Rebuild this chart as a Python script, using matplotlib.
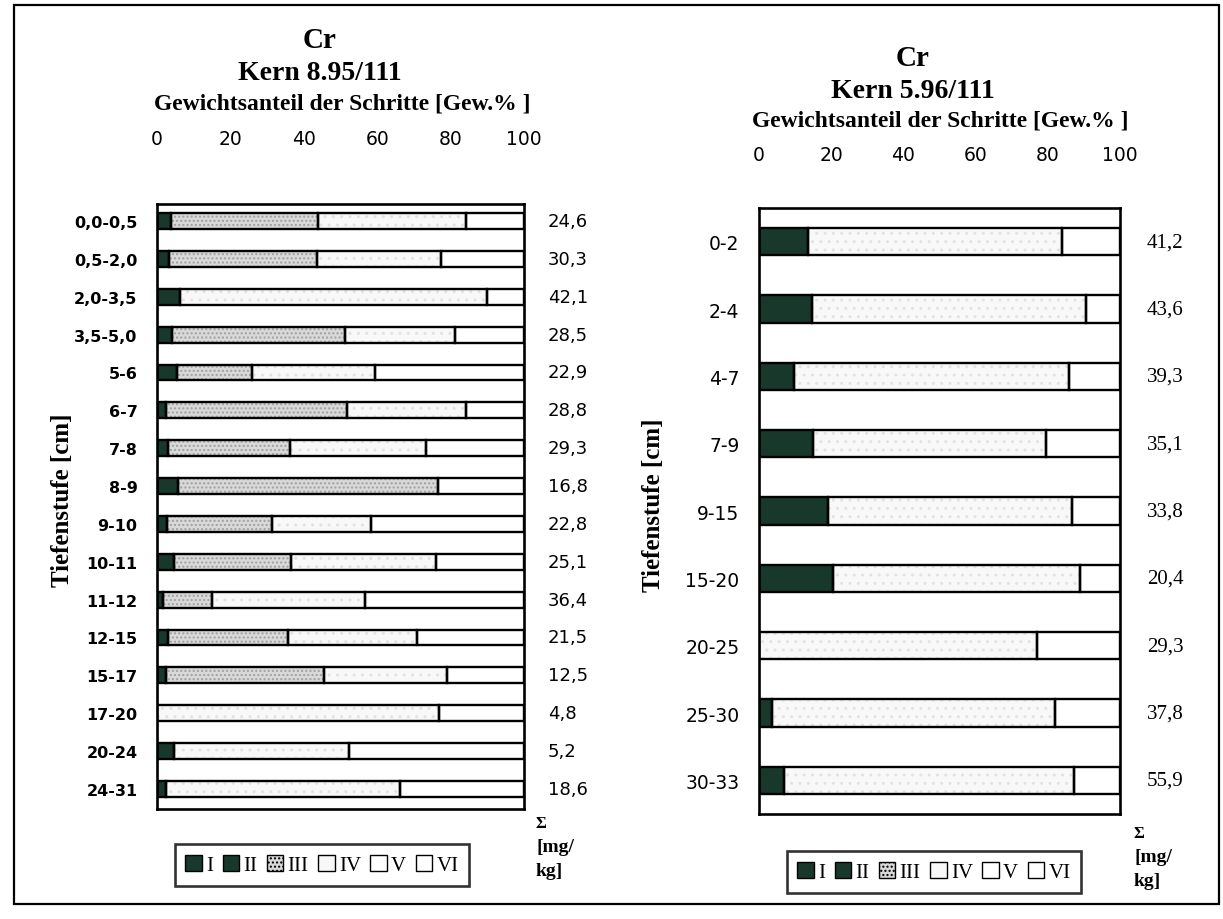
import matplotlib
matplotlib.use("Agg")
import matplotlib.pyplot as plt
from matplotlib.patches import Patch, Rectangle
import numpy as np

# ---------------- data ----------------
series_names = ["I", "II", "III", "IV", "V", "VI"]

left_labels = ["0,0-0,5", "0,5-2,0", "2,0-3,5", "3,5-5,0", "5-6", "6-7", "7-8", "8-9",
               "9-10", "10-11", "11-12", "12-15", "15-17", "17-20", "20-24", "24-31"]
left_I   = [1.0, 1.0, 2.0, 1.5, 2.0, 1.0, 1.0, 2.0, 1.0, 1.5, 0.5, 1.0, 1.0, 0.0, 1.5, 1.0]
left_II  = [2.8, 2.4, 4.3, 2.5, 3.4, 1.5, 2.1, 3.6, 1.7, 3.0, 1.0, 2.1, 1.4, 0.0, 3.1, 1.4]
left_III = [40.0, 40.3, 0.0, 47.2, 20.4, 49.4, 33.2, 71.0, 28.6, 32.1, 13.4, 32.6, 43.2, 0.0, 0.0, 0.0]
left_IV  = [40.3, 33.6, 83.5, 30.0, 33.6, 32.3, 37.1, 0.0, 27.0, 39.3, 41.9, 35.2, 33.5, 76.8, 47.8, 63.8]
left_V   = [15.9, 22.7, 10.2, 18.8, 40.6, 15.8, 26.6, 23.4, 41.7, 24.1, 43.2, 29.1, 20.9, 23.2, 47.6, 33.8]
left_VI  = [0.0] * 16
left_sum = ["24,6", "30,3", "42,1", "28,5", "22,9", "28,8", "29,3", "16,8",
            "22,8", "25,1", "36,4", "21,5", "12,5", "4,8", "5,2", "18,6"]

right_labels = ["0-2", "2-4", "4-7", "7-9", "9-15", "15-20", "20-25", "25-30", "30-33"]
right_I   = [6.0, 6.5, 4.5, 7.0, 9.0, 9.0, 0.0, 1.5, 3.0]
right_II  = [7.7, 8.2, 5.1, 8.0, 10.0, 11.5, 0.0, 2.2, 3.9]
right_III = [0.0] * 9
right_IV  = [70.3, 75.9, 76.3, 64.5, 67.8, 68.3, 76.9, 78.4, 80.4]
right_V   = [16.0, 9.4, 14.1, 20.5, 13.2, 11.2, 23.1, 17.9, 12.7]
right_VI  = [0.0] * 9
right_sum = ["41,2", "43,6", "39,3", "35,1", "33,8", "20,4", "29,3", "37,8", "55,9"]

x_ticks = [0, 20, 40, 60, 80, 100]

# ---------------- style ----------------
DARK = "#17382a"
colors = [DARK, DARK, "#d9d9d9", "#f8f8f8", "white", "white"]
hatch_col = [None, None, "#a0a0a0", "#e2e2e2", None, None]
hatches = [None, None, "....", "..", None, None]
# segments that share one outline (I and II look like one dark block)
outline_groups = [[0, 1], [2], [3], [4], [5]]
SERIF = "Liberation Serif"
SANS = "DejaVu Sans"

W, H = 1223, 920
fig = plt.figure(figsize=(W / 100, H / 100), dpi=100)
fig.patch.set_facecolor("white")


def px_axes(x0, y0, x1, y1):
    return fig.add_axes([x0 / W, 1 - y1 / H, (x1 - x0) / W, (y1 - y0) / H])


def draw_panel(ax, labels, data, sums, bar_h, ylim, tick_pad, lab_font, lab_size, lab_weight,
               sum_x, sum_font, sum_size):
    n = len(labels)
    y = np.arange(n)
    arr = np.asarray(data, dtype=float)
    starts = np.vstack([np.zeros(n), np.cumsum(arr, axis=0)[:-1]])
    # fills
    for k in range(arr.shape[0]):
        ax.barh(y, arr[k], left=starts[k], height=bar_h, color=colors[k],
                hatch=hatches[k], edgecolor=(hatch_col[k] or colors[k]), linewidth=0)
    # outlines
    for g in outline_groups:
        w = arr[g].sum(axis=0)
        s = starts[g[0]]
        m = w > 0
        ax.barh(y[m], w[m], left=s[m], height=bar_h, color="none",
                edgecolor="black", linewidth=1.7)
    ax.set_xlim(0, 100)
    ax.set_ylim(*ylim)
    ax.xaxis.tick_top()
    ax.set_xticks(x_ticks)
    ax.set_xticklabels([str(t) for t in x_ticks], fontsize=13.5, family=SANS)
    ax.tick_params(axis="x", length=0, pad=tick_pad)
    ax.set_yticks(y)
    ax.set_yticklabels(labels, fontsize=lab_size, family=lab_font, fontweight=lab_weight)
    ax.tick_params(axis="y", length=0, pad=14)
    for s in ax.spines.values():
        s.set_linewidth(1.9)
    for yi, s in zip(y, sums):
        ax.text(sum_x, yi, s, transform=ax.get_yaxis_transform(), ha="left",
                va="center", fontsize=sum_size, family=sum_font)


left_data = [left_I, left_II, left_III, left_IV, left_V, left_VI]
right_data = [right_I, right_II, right_III, right_IV, right_V, right_VI]

axL = px_axes(157, 205, 524, 810)
draw_panel(axL, left_labels, left_data, left_sum, 0.42, (15.53, -0.45), 40,
           SANS, 11.5, "bold", 1.065, SANS, 13)

axR = px_axes(759, 209, 1120, 815)
draw_panel(axR, right_labels, right_data, right_sum, 0.41, (8.5, -0.5), 32,
           SANS, 13.5, "normal", 1.075, SERIF, 15)

# titles
def ftext(x, y, s, **kw):
    fig.text(x / W, 1 - y / H, s, ha="center", va="center", **kw)

ftext(320, 41, "Cr", fontsize=21, fontweight="bold", family=SERIF)
ftext(320, 73, "Kern 8.95/111", fontsize=20, fontweight="bold", family=SERIF)
ftext(342, 104, "Gewichtsanteil der Schritte [Gew.% ]", fontsize=17, fontweight="bold", family=SERIF)
ftext(913, 58, "Cr", fontsize=21, fontweight="bold", family=SERIF)
ftext(913, 91, "Kern 5.96/111", fontsize=20, fontweight="bold", family=SERIF)
ftext(940, 121, "Gewichtsanteil der Schritte [Gew.% ]", fontsize=17, fontweight="bold", family=SERIF)

ftext(63, 500, "Tiefenstufe [cm]", fontsize=18, fontweight="bold", family=SERIF, rotation=90)
ftext(654, 505, "Tiefenstufe [cm]", fontsize=18, fontweight="bold", family=SERIF, rotation=90)

for (x, y0) in [(536, 824), (1134, 834)]:
    fig.text(x / W, 1 - y0 / H, "Σ", ha="left", va="center", fontsize=12, fontweight="bold", family=SERIF)
    fig.text(x / W, 1 - (y0 + 24) / H, "[mg/", ha="left", va="center", fontsize=14, fontweight="bold", family=SERIF)
    fig.text(x / W, 1 - (y0 + 48) / H, "kg]", ha="left", va="center", fontsize=14, fontweight="bold", family=SERIF)

# legends
handles = [Patch(facecolor=colors[k], edgecolor="black",
                 hatch=hatches[k] if k == 2 else None, linewidth=1.0, label=series_names[k])
           for k in range(6)]
for (cx, cy) in [(322, 866), (934, 873)]:
    leg = fig.legend(handles=handles, loc="center", bbox_to_anchor=(cx / W, 1 - cy / H), ncol=6,
                     frameon=True, fancybox=False, edgecolor="black", handlelength=0.8,
                     handleheight=0.8, handletextpad=0.2, columnspacing=0.45,
                     prop={"family": SERIF, "size": 15}, borderpad=0.5)
    leg.get_frame().set_linewidth(1.9)

# outer frame
frame = Rectangle((14 / W, 1 - 905 / H), (1219 - 14) / W, (905 - 6) / H, transform=fig.transFigure,
                  fill=False, edgecolor="black", linewidth=1.6)
fig.patches.append(frame)

fig.savefig("out.png", dpi=100, facecolor="white")
